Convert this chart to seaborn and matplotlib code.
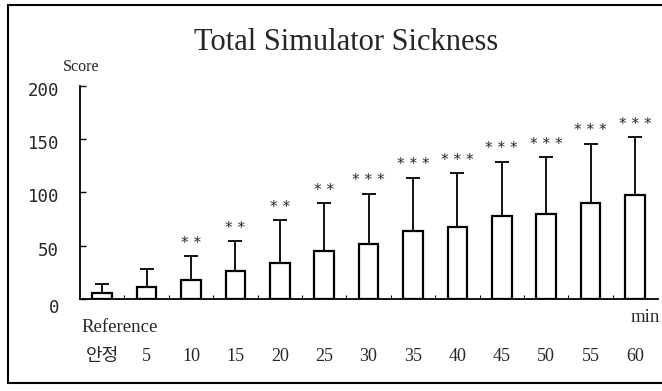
import numpy as np
import pandas as pd
import matplotlib
matplotlib.use("Agg")
import matplotlib.pyplot as plt
from matplotlib.lines import Line2D
from matplotlib.transforms import ScaledTranslation
import seaborn as sns

# ---- data ----
tick_labels = ["안정", "5", "10", "15", "20", "25", "30", "35", "40", "45", "50", "55", "60"]
means = [6, 11, 18, 26, 34, 45, 52, 64, 68, 78, 80, 90, 98]
sds = [8, 17, 22, 28, 40, 45, 47, 50, 50, 51, 53, 56, 54]
signif = ["", "", "**", "**", "**", "**", "***", "***", "***", "***", "***", "***", "***"]
y_ticks = [0, 50, 100, 150, 200]

df = pd.DataFrame({"time": tick_labels, "score": means})

sns.set_theme(style="white")
plt.rcParams["font.family"] = ["Liberation Serif", "Noto Sans CJK KR", "DejaVu Sans"]

fig = plt.figure(figsize=(6.62, 3.91), dpi=100)
ax = fig.add_axes([80 / 662, 1 - 299 / 391, (658 - 80) / 662, (299 - 86) / 391])

sns.barplot(data=df, x="time", y="score", order=tick_labels, color="white",
            edgecolor="black", linewidth=1.6, width=0.44, ax=ax, errorbar=None)
for p in ax.patches:
    p.set_facecolor("white")

xs = np.arange(len(tick_labels))
ax.errorbar(xs, means, yerr=[np.zeros(len(sds)), sds], fmt="none",
            ecolor="black", elinewidth=1.3, capsize=5, capthick=1.3, zorder=1)

for x, m, s, t in zip(xs, means, sds, signif):
    if t:
        ax.annotate(" ".join(t), (x, m + s), xytext=(0, 4), textcoords="offset points",
                    ha="center", va="bottom", fontsize=11, family="DejaVu Sans")

ax.set_ylim(0, 200)
ax.set_xlim(-0.5, 12.52)
ax.set_yticks(y_ticks)
ax.set_yticklabels([str(v) for v in y_ticks], family="DejaVu Sans Mono", fontsize=12.5)
ax.set_xlabel("")
ax.set_ylabel("")

ax.set_xticks(xs)
ax.set_xticklabels(tick_labels, fontsize=13)
ax.set_xticks(xs[:-1] + 0.5, minor=True)
ax.tick_params(axis="x", which="major", length=0, pad=35)
ax.tick_params(axis="x", which="minor", direction="in", length=3, width=0.8, color="black", bottom=True)
ax.tick_params(axis="y", which="major", direction="in", length=4, width=1, color="black", left=True, pad=15)

for lab in ax.get_yticklabels():
    dy = -7 if lab.get_text() == "0" else -3
    lab.set_transform(lab.get_transform() + ScaledTranslation(0, dy / 100, fig.dpi_scale_trans))

for side in ["top", "right"]:
    ax.spines[side].set_visible(False)
for side in ["left", "bottom"]:
    ax.spines[side].set_color("black")
    ax.spines[side].set_linewidth(1.3)

# texts
fig.text(346 / 662, 1 - 42 / 391, "Total Simulator Sickness", ha="center", va="center",
         fontsize=22, family="Liberation Serif")
fig.text(81 / 662, 1 - 67 / 391, "Score", ha="center", va="center", fontsize=11.5,
         family="Liberation Serif")
fig.text(81 / 662, 1 - 328 / 391, "Reference", ha="left", va="center", fontsize=13.5,
         family="Liberation Serif")
fig.text(645 / 662, 1 - 318 / 391, "min", ha="center", va="center", fontsize=13.5,
         family="Liberation Serif")

# scanned frame border
for xy in [([8 / 662, 8 / 662], [1 - 5 / 391, 1 - 383 / 391]),
           ([8 / 662, 1.0], [1 - 5 / 391, 1 - 5 / 391]),
           ([8 / 662, 1.0], [1 - 383 / 391, 1 - 383 / 391])]:
    fig.add_artist(Line2D(xy[0], xy[1], color="black", linewidth=1.5, transform=fig.transFigure))

fig.savefig("out.png", dpi=100)
